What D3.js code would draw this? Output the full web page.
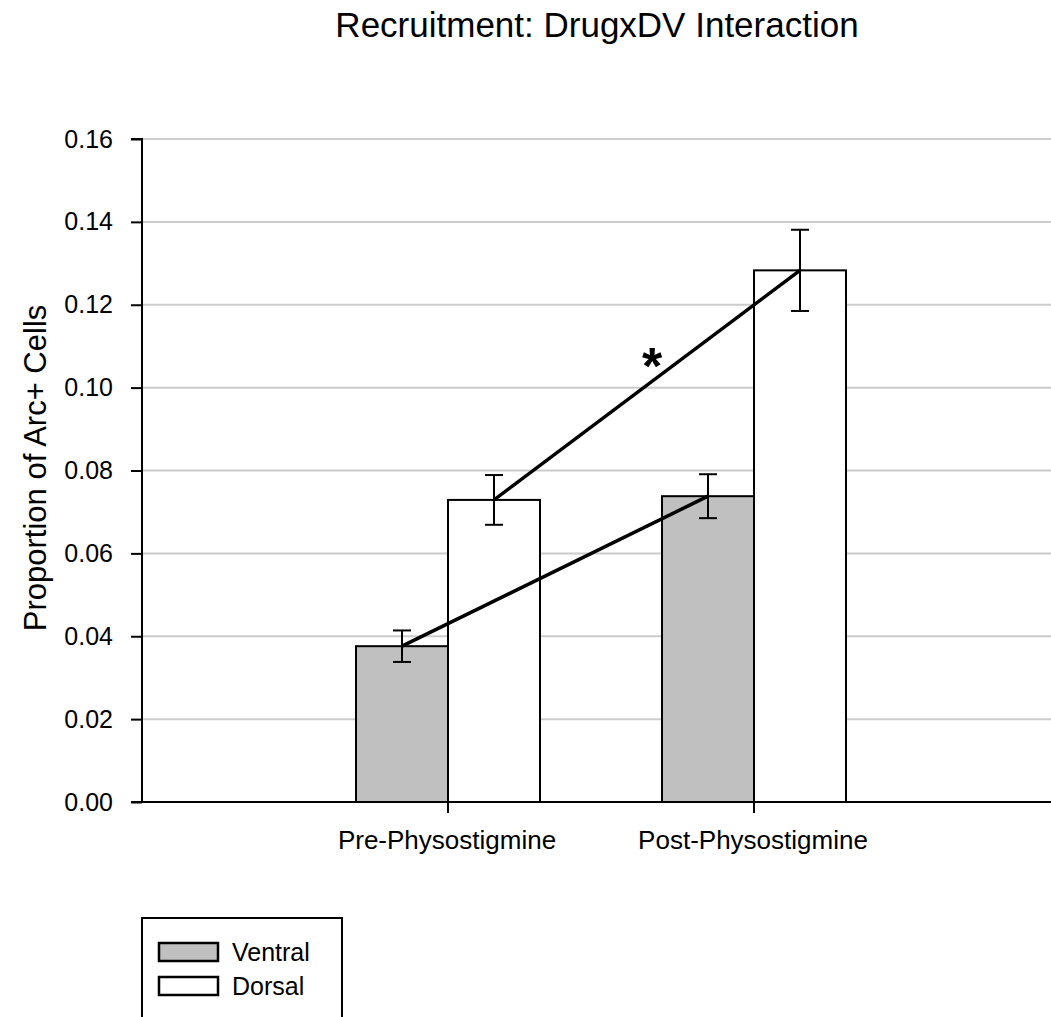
<!DOCTYPE html>
<html><head><meta charset="utf-8">
<script src="https://cdn.jsdelivr.net/npm/d3@7"></script>
<style>body{margin:0;background:#fff}svg{display:block}text{font-family:"Liberation Sans",Arial,sans-serif;fill:#000}</style>
</head><body>
<script>
const categories = ["Pre-Physostigmine", "Post-Physostigmine"];
const seriesNames = ["Ventral", "Dorsal"];
const ventral = [0.0376, 0.0738];
const dorsal = [0.0729, 0.1283];
const ventralErr = [0.0038, 0.0053];
const dorsalErr = [0.0060, 0.0098];
const yTicks = [0, 0.02, 0.04, 0.06, 0.08, 0.10, 0.12, 0.14, 0.16];
const colors = ["#c0c0c0", "#ffffff"];

(function () {
const W = 1051, H = 1017;
const svg = d3.select("body").append("svg").attr("width", W).attr("height", H);
const pLeft = 142, pTop = 139, pBottom = 802, pRight = 1060;

const y = d3.scaleLinear().domain([0, 0.16]).range([pBottom, pTop]);
const xc = d3.scaleLinear().domain([0, 3]).range([pLeft, pRight]);
const barW = 92;

// gridlines
svg.append("g").selectAll("line").data(yTicks.filter(d => d > 0)).join("line")
  .attr("x1", pLeft).attr("x2", pRight).attr("y1", d => y(d)).attr("y2", d => y(d))
  .attr("stroke", "#cccccc").attr("stroke-width", 2);

// title
svg.append("text").attr("x", 597).attr("y", 37).attr("text-anchor", "middle")
  .style("font-size", "35px").text("Recruitment: DrugxDV Interaction");

// bars
const series = [ventral, dorsal];
const errs = [ventralErr, dorsalErr];
const barData = [];
categories.forEach((c, i) => {
  series.forEach((s, j) => {
    const cx = xc(i + 1);
    const x0 = j === 0 ? cx - barW : cx;
    barData.push({x0, v: s[i], e: errs[j][i], color: colors[j], mid: x0 + barW / 2});
  });
});
svg.append("g").selectAll("rect").data(barData).join("rect")
  .attr("x", d => d.x0).attr("y", d => y(d.v)).attr("width", barW).attr("height", d => pBottom - y(d.v))
  .attr("fill", d => d.color).attr("stroke", "#000").attr("stroke-width", 2);

// error bars
const eg = svg.append("g").attr("stroke", "#000").attr("stroke-width", 2);
barData.forEach(d => {
  eg.append("line").attr("x1", d.mid).attr("x2", d.mid).attr("y1", y(d.v + d.e)).attr("y2", y(d.v - d.e));
  eg.append("line").attr("x1", d.mid - 9).attr("x2", d.mid + 9).attr("y1", y(d.v + d.e)).attr("y2", y(d.v + d.e));
  eg.append("line").attr("x1", d.mid - 9).attr("x2", d.mid + 9).attr("y1", y(d.v - d.e)).attr("y2", y(d.v - d.e));
});

// connecting lines
const line = d3.line().x(d => d[0]).y(d => d[1]);
[0, 1].forEach(j => {
  const pts = categories.map((c, i) => {
    const d = barData[i * 2 + j];
    return [d.mid, y(d.v)];
  });
  svg.append("path").attr("d", line(pts)).attr("fill", "none").attr("stroke", "#000").attr("stroke-width", 3.5);
});
svg.append("text").attr("x", 652).attr("y", 384).attr("text-anchor", "middle")
  .style("font-size", "52px").style("font-weight", "bold").text("*");

// y axis
const yAxis = d3.axisLeft(y).tickValues(yTicks).tickFormat(d3.format(".2f")).tickSize(11).tickPadding(18);
const ya = svg.append("g").attr("transform", `translate(${pLeft},0)`).call(yAxis);
ya.select(".domain").attr("stroke", "#000").attr("stroke-width", 2).attr("d", `M-11,${pTop}H0V${pBottom}H-11`);
ya.selectAll(".tick line").attr("stroke", "#000").attr("stroke-width", 2);
ya.selectAll("text").style("font-size", "25px").style("font-family", "Liberation Sans, Arial, sans-serif");

// x axis
const xa = svg.append("g").attr("transform", `translate(0,${pBottom})`);
xa.append("line").attr("x1", pLeft).attr("x2", pRight).attr("y1", 0).attr("y2", 0).attr("stroke", "#000").attr("stroke-width", 2);
xa.selectAll(".xt").data(categories).join("line").attr("class", "xt")
  .attr("x1", (d, i) => xc(i + 1)).attr("x2", (d, i) => xc(i + 1)).attr("y1", 0).attr("y2", 11)
  .attr("stroke", "#000").attr("stroke-width", 2);
xa.selectAll(".xl").data(categories).join("text").attr("class", "xl")
  .attr("x", (d, i) => xc(i + 1) - 1).attr("y", 47).attr("text-anchor", "middle")
  .style("font-size", "26px").text(d => d);

// y label
svg.append("text").attr("transform", "translate(46,468) rotate(-90)").attr("text-anchor", "middle")
  .style("font-size", "31px").text("Proportion of Arc+ Cells");

// legend
const lg = svg.append("g");
lg.append("rect").attr("x", 142).attr("y", 918).attr("width", 200).attr("height", 120)
  .attr("fill", "#fff").attr("stroke", "#000").attr("stroke-width", 2);
seriesNames.forEach((n, j) => {
  const yy = 943 + j * 34;
  lg.append("rect").attr("x", 159).attr("y", yy).attr("width", 59).attr("height", 18)
    .attr("fill", colors[j]).attr("stroke", "#000").attr("stroke-width", 2.5);
  lg.append("text").attr("x", 232).attr("y", yy + 18).style("font-size", "25px").text(n);
});
})();
</script>
</body></html>
